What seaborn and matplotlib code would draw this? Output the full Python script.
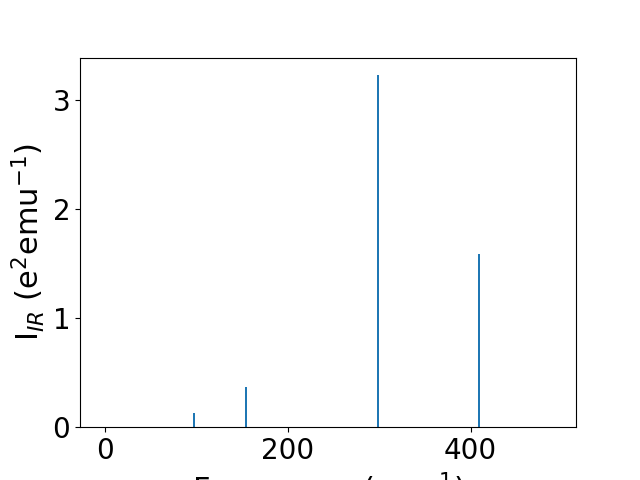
import seaborn as sns
import matplotlib.pyplot as plt

# IR active modes
frequencies = [97.5, 153.8, 298.5, 409.5]
intensities = [0.13, 0.365, 3.23, 1.59]

plt.rcParams['font.size'] = 20

fig, ax = plt.subplots(figsize=(6.4, 4.8), dpi=100)
sns.barplot(x=frequencies, y=intensities, native_scale=True, width=0.036,
            color='#1f77b4', saturation=1, ax=ax)
ax.set_xlim(-27.7, 515.5)
ax.set_xlabel('Frequency (cm$^{-1}$)', fontsize=22)
ax.set_ylabel('I$_{IR}$ (e$^2$emu$^{-1}$)', fontsize=22)
plt.savefig('out.png', dpi=100)
